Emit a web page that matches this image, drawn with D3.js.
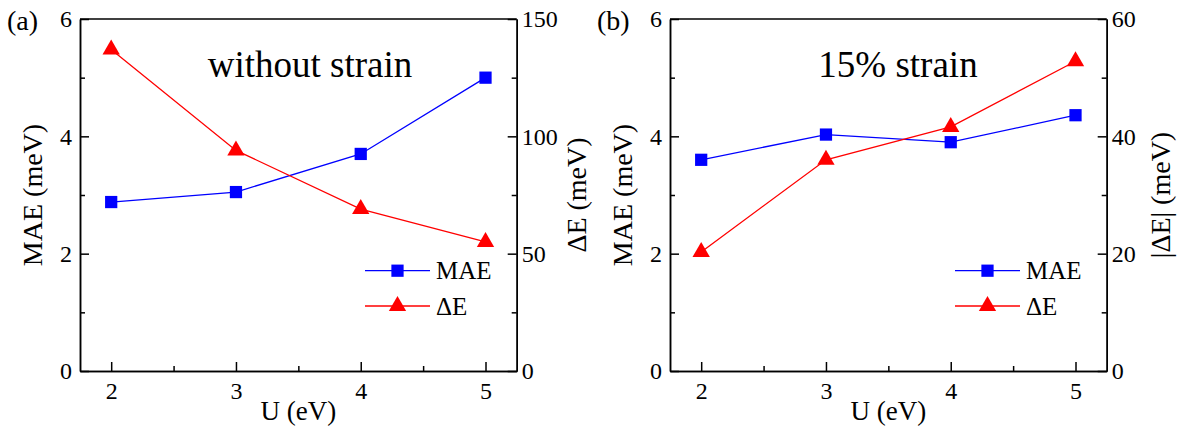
<!DOCTYPE html>
<html>
<head>
<meta charset="utf-8">
<script src="https://cdn.jsdelivr.net/npm/d3@7"></script>
<style>
  body { margin: 0; background: #fff; }
</style>
</head>
<body>
<svg id="chart"></svg>
<script>
const U = [2, 3, 4, 5];
const maeNoStrain = [2.88, 3.05, 3.70, 5.00];
const dENoStrain = [137, 94, 69, 55];
const maeStrain = [3.60, 4.03, 3.90, 4.36];
const dEStrain = [20.3, 36, 41.6, 52.8];
const xTicks = [2, 3, 4, 5];
const leftTicks = [0, 2, 4, 6];

const FONT = 'Liberation Serif, Times New Roman, Tinos, DejaVu Serif, serif';
const width = 1189, height = 437;
const svg = d3.select('#chart').attr('width', width).attr('height', height)
  .style('font-family', FONT);

const panels = [
  { tag: '(a)', title: 'without strain', titleX: 310, mae: maeNoStrain, dE: dENoStrain,
    rightMax: 150, rightTicks: [0, 50, 100, 150], rightLabel: 'ΔE (meV)', rOff: 60, ox: 80 },
  { tag: '(b)', title: '15% strain', titleX: 898, mae: maeStrain, dE: dEStrain,
    rightMax: 60, rightTicks: [0, 20, 40, 60], rightLabel: '|ΔE| (meV)', rOff: 54, ox: 670 }
];

const pw = 436.7, plotTop = 19, plotBottom = 371;
const fmt = d3.format('d');

const drawPanel = p => {
  const x = d3.scaleLinear().domain([1.75, 5.25]).range([p.ox, p.ox + pw]);
  const yL = d3.scaleLinear().domain([0, 6]).range([plotBottom, plotTop]);
  const yR = d3.scaleLinear().domain([0, p.rightMax]).range([plotBottom, plotTop]);
  const g = svg.append('g');

  // top line of the frame
  g.append('line').attr('x1', p.ox).attr('x2', p.ox + pw).attr('y1', plotTop).attr('y2', plotTop)
    .attr('stroke', '#000').attr('stroke-width', 1.5);

  const styleAxis = sel => {
    sel.attr('font-family', FONT);
    sel.select('.domain').attr('stroke-width', 1.5);
    sel.selectAll('line').attr('stroke-width', 1.5);
    sel.selectAll('text').attr('font-size', 24).attr('fill', '#000').style('font-family', FONT);
  };

  // minor ticks
  const xMinor = d3.range(2.5, 5, 1);
  g.append('g').attr('transform', `translate(0,${plotBottom})`)
    .call(d3.axisBottom(x).tickValues(xMinor).tickSizeInner(-5).tickSizeOuter(0).tickFormat(''))
    .call(styleAxis);
  g.append('g').attr('transform', `translate(${p.ox},0)`)
    .call(d3.axisLeft(yL).tickValues([1, 3, 5]).tickSizeInner(-5).tickSizeOuter(0).tickFormat(''))
    .call(styleAxis);
  g.append('g').attr('transform', `translate(${p.ox + pw},0)`)
    .call(d3.axisRight(yR).tickValues(p.rightTicks.slice(0, -1).map(v => v + p.rightMax / 6))
      .tickSizeInner(-5).tickSizeOuter(0).tickFormat(''))
    .call(styleAxis);

  // major axes
  g.append('g').attr('transform', `translate(0,${plotBottom})`)
    .call(d3.axisBottom(x).tickValues(xTicks).tickFormat(fmt).tickSizeInner(-9).tickSizeOuter(0).tickPadding(6))
    .call(styleAxis)
    .selectAll('text').attr('dy', '0.9em');
  g.append('g').attr('transform', `translate(${p.ox},0)`)
    .call(d3.axisLeft(yL).tickValues(leftTicks).tickFormat(fmt).tickSizeInner(-9).tickSizeOuter(0).tickPadding(8))
    .call(styleAxis);
  g.append('g').attr('transform', `translate(${p.ox + pw},0)`)
    .call(d3.axisRight(yR).tickValues(p.rightTicks).tickFormat(fmt).tickSizeInner(-9).tickSizeOuter(0).tickPadding(5))
    .call(styleAxis);

  // lines
  const lineL = d3.line().x((d, i) => x(U[i])).y(d => yL(d));
  const lineR = d3.line().x((d, i) => x(U[i])).y(d => yR(d));
  g.append('path').attr('d', lineL(p.mae)).attr('fill', 'none').attr('stroke', '#0000ff').attr('stroke-width', 1.3);
  g.append('path').attr('d', lineR(p.dE)).attr('fill', 'none').attr('stroke', '#ff0000').attr('stroke-width', 1.3);

  const sq = d3.symbol().type(d3.symbolSquare).size(150);
  const tri = d3.symbol().type(d3.symbolTriangle).size(130);

  g.selectAll('.sq').data(p.mae).enter().append('path')
    .attr('transform', (d, i) => `translate(${x(U[i])},${yL(d)})`)
    .attr('d', sq).attr('fill', '#0000ff');
  g.selectAll('.tri').data(p.dE).enter().append('path')
    .attr('transform', (d, i) => `translate(${x(U[i])},${yR(d)})`)
    .attr('d', tri).attr('fill', '#ff0000');

  // legend
  const lx = p.ox + 285;
  const leg = [
    { label: 'MAE', color: '#0000ff', sym: sq, y: 270.7 },
    { label: 'ΔE', color: '#ff0000', sym: tri, y: 306 }
  ];
  leg.forEach(l => {
    g.append('line').attr('x1', lx).attr('x2', lx + 65).attr('y1', l.y).attr('y2', l.y)
      .attr('stroke', l.color).attr('stroke-width', 1.3);
    g.append('path').attr('transform', `translate(${lx + 32.5},${l.y})`).attr('d', l.sym).attr('fill', l.color);
    g.append('text').attr('x', lx + 71).attr('y', l.y).attr('dy', '0.35em')
      .attr('font-size', 25).text(l.label);
  });

  // titles
  g.append('text').attr('x', p.titleX).attr('y', 77).attr('text-anchor', 'middle')
    .attr('font-size', 37).text(p.title);
  g.append('text').attr('x', p.ox - 73).attr('y', 30).attr('font-size', 28).text(p.tag);
  g.append('text').attr('x', p.ox + pw / 2).attr('y', 420).attr('text-anchor', 'middle')
    .attr('font-size', 27).text('U (eV)');
  g.append('text').attr('transform', `translate(${p.ox - 38},${(plotTop + plotBottom) / 2}) rotate(-90)`)
    .attr('text-anchor', 'middle').attr('font-size', 28).text('MAE (meV)');
  g.append('text').attr('transform', `translate(${p.ox + pw + p.rOff + 9},${(plotTop + plotBottom) / 2}) rotate(-90)`)
    .attr('text-anchor', 'middle').attr('font-size', 28).text(p.rightLabel);
};

panels.forEach(drawPanel);
</script>
</body>
</html>
